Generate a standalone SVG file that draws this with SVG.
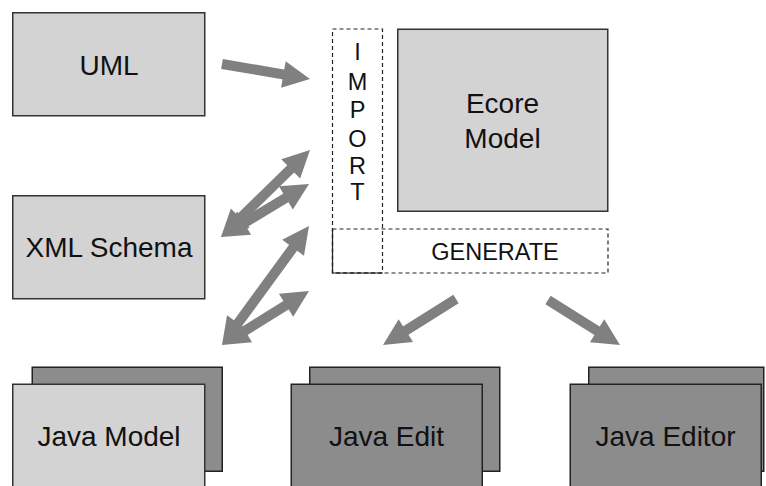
<svg xmlns="http://www.w3.org/2000/svg" xmlns:xlink="http://www.w3.org/1999/xlink" width="766" height="486" viewBox="0 0 766 486">
<style>
.light{fill:#d3d3d3;stroke:#333;stroke-width:1.5}
.dark{fill:#8c8c8c;stroke:#222;stroke-width:1.5}
.lbl{font-family:"Liberation Sans",Arial,sans-serif;font-size:28px;fill:#111;text-anchor:middle}
.small{font-family:"Liberation Sans",Arial,sans-serif;font-size:23.5px;fill:#111;text-anchor:middle}
.dash{fill:none;stroke:#222;stroke-width:1.2;stroke-dasharray:4,3}
.shaft{stroke:#808080;stroke-width:10;fill:none}
.head{fill:#808080}
</style>
<defs>
<path id="head" d="M0,0 L-27,-13.5 L-27,13.5 Z"/>
</defs>
<rect width="766" height="486" fill="#fff"/>
<g id="uml">
<rect class="light" x="12.75" y="12.75" width="192" height="103"/>
<text class="lbl" x="109" y="75">UML</text>
</g>
<g id="xmlschema">
<rect class="light" x="12.75" y="195.75" width="192" height="103"/>
<text class="lbl" x="109" y="257">XML Schema</text>
</g>
<g id="ecore">
<rect class="light" x="397.75" y="29.25" width="210" height="182"/>
<text class="lbl" x="502.5" y="113">Ecore</text>
<text class="lbl" x="502.5" y="148">Model</text>
</g>
<g id="import">
<rect class="dash" x="332.5" y="29" width="50" height="244"/>
<text class="small" x="357.5" y="60">I</text>
<text class="small" x="357.5" y="90">M</text>
<text class="small" x="357.5" y="118">P</text>
<text class="small" x="357.5" y="147">O</text>
<text class="small" x="357.5" y="174">R</text>
<text class="small" x="357.5" y="200">T</text>
</g>
<g id="generate">
<rect class="dash" x="332.5" y="229" width="275.5" height="44"/>
<polyline points="332.5,229 332.5,273 382.5,273" fill="none" stroke="#222" stroke-width="1.2"/>
<text class="small" x="495" y="260">GENERATE</text>
</g>
<g id="javamodel">
<rect class="dark" x="32.25" y="367.25" width="190" height="104"/>
<rect class="light" x="12.75" y="384.25" width="192" height="120"/>
<text class="lbl" x="109" y="446">Java Model</text>
</g>
<g id="javaedit">
<rect class="dark" x="309.75" y="367.25" width="190" height="104"/>
<rect class="dark" x="291.25" y="384.25" width="191" height="120"/>
<text class="lbl" x="386.5" y="446">Java Edit</text>
</g>
<g id="javaeditor">
<rect class="dark" x="588.75" y="367.25" width="175" height="104"/>
<rect class="dark" x="570.25" y="384.25" width="191" height="120"/>
<text class="lbl" x="665.5" y="446">Java Editor</text>
</g>
<g id="connectors">
<line class="shaft" x1="222" y1="64" x2="290.3" y2="75.6"/>
<use href="#head" class="head" transform="translate(310,79) rotate(9.67)"/>
<line class="shaft" x1="235.3" y1="223" x2="295.7" y2="164"/>
<use href="#head" class="head" transform="translate(310,150) rotate(-44.35)"/>
<use href="#head" class="head" transform="translate(221,237) rotate(135.65)"/>
<line class="shaft" x1="238.1" y1="226.7" x2="291.9" y2="194.3"/>
<use href="#head" class="head" transform="translate(309,184) rotate(-31.06)"/>
<use href="#head" class="head" transform="translate(221,237) rotate(148.94)"/>
<line class="shaft" x1="233.8" y1="328.9" x2="297.2" y2="242.1"/>
<use href="#head" class="head" transform="translate(309,226) rotate(-53.83)"/>
<use href="#head" class="head" transform="translate(222,345) rotate(126.17)"/>
<line class="shaft" x1="239" y1="334.5" x2="292" y2="301.5"/>
<use href="#head" class="head" transform="translate(309,291) rotate(-31.83)"/>
<use href="#head" class="head" transform="translate(222,345) rotate(148.17)"/>
<line class="shaft" x1="456" y1="299" x2="399.9" y2="334.3"/>
<use href="#head" class="head" transform="translate(383,345) rotate(147.78)"/>
<line class="shaft" x1="548" y1="300" x2="603" y2="334.4"/>
<use href="#head" class="head" transform="translate(620,345) rotate(32)"/>
</g>
</svg>
